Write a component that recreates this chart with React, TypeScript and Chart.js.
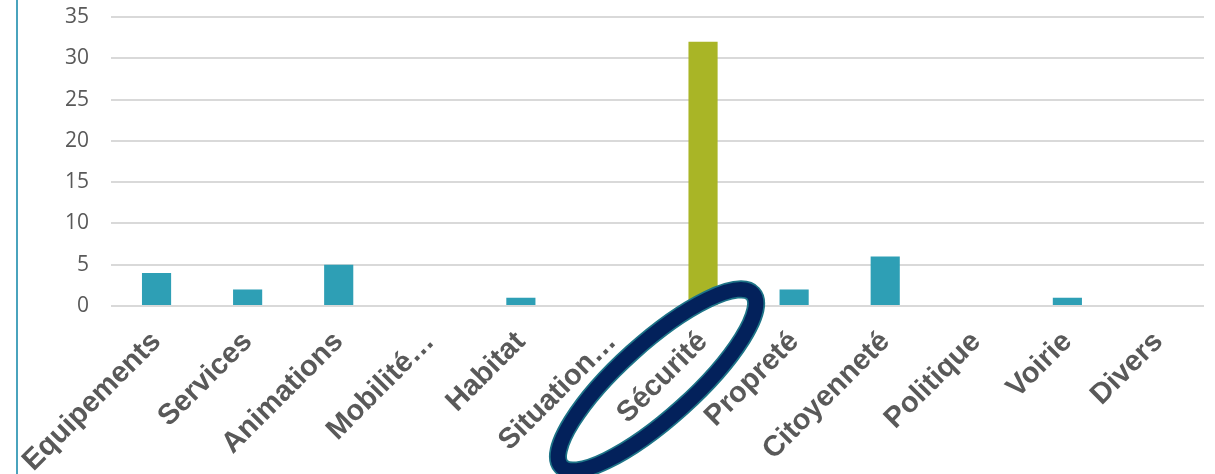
import React, { useEffect, useRef } from "react";
import { Chart, registerables } from "chart.js";

Chart.register(...registerables);

const categories = [
  "Equipements",
  "Services",
  "Animations",
  "Mobilité…",
  "Habitat",
  "Situation…",
  "Sécurité",
  "Propreté",
  "Citoyenneté",
  "Politique",
  "Voirie",
  "Divers",
];
const counts = [4, 2, 5, 0, 1, 0, 32, 2, 6, 0, 1, 0];
const highlighted = "Sécurité";
const yTicks = [0, 5, 10, 15, 20, 25, 30, 35];

const TEAL = "#2E9FB5";
const GREEN = "#A9B526";
const NAVY = "#03215B";
const RING_EDGE = "#1E7487";

const ellipsePlugin = {
  id: "ellipseHighlight",
  afterDraw(chart: any) {
    const idx = categories.indexOf(highlighted);
    if (idx < 0) return;
    const x = chart.scales.x.getPixelForValue(idx);
    const y = chart.chartArea.bottom;
    const ctx = chart.ctx;
    const cx = x - 46;
    const cy = y + 74;
    const rot = (-42 * Math.PI) / 180;
    ctx.save();
    ctx.beginPath();
    ctx.ellipse(cx, cy, 129, 37, rot, 0, Math.PI * 2);
    ctx.strokeStyle = RING_EDGE;
    ctx.lineWidth = 18;
    ctx.stroke();
    ctx.beginPath();
    ctx.ellipse(cx, cy, 129, 37, rot, 0, Math.PI * 2);
    ctx.strokeStyle = NAVY;
    ctx.lineWidth = 14.5;
    ctx.stroke();
    ctx.restore();
  },
};

export default function App() {
  const ref = useRef<HTMLCanvasElement | null>(null);
  useEffect(() => {
    if (!ref.current) return;
    const chart = new Chart(ref.current, {
      type: "bar",
      data: {
        labels: categories,
        datasets: [
          {
            data: counts,
            backgroundColor: categories.map((c) => (c === highlighted ? GREEN : TEAL)),
            barPercentage: 0.32,
            categoryPercentage: 1,
          },
        ],
      },
      options: {
        animation: false,
        responsive: false,
        maintainAspectRatio: false,
        layout: { padding: { top: 17, right: 11, left: 0, bottom: 0 } },
        plugins: { legend: { display: false }, tooltip: { enabled: false } },
        scales: {
          x: {
            grid: { display: false },
            border: { display: false },
            afterFit(scale: any) {
              scale.height = 168;
              scale.paddingLeft = 0;
              scale.paddingRight = 0;
            },
            ticks: {
              autoSkip: false,
              maxRotation: 45,
              minRotation: 45,
              padding: 11,
              color: "#595959",
              font: { family: "Liberation Sans, Arial", size: 29, weight: "bold" },
            },
          },
          y: {
            min: 0,
            max: 35,
            afterFit(scale: any) {
              scale.width = 111;
              scale.paddingTop = 0;
              scale.paddingBottom = 0;
            },
            afterBuildTicks(scale: any) {
              scale.ticks = yTicks.map((v) => ({ value: v }));
            },
            grid: { color: "#D9D9D9", lineWidth: 2, drawTicks: false },
            border: { display: false },
            ticks: {
              padding: 22,
              color: "#595959",
              font: { family: "Open Sans", size: 21 },
            },
          },
        },
      },
      plugins: [ellipsePlugin],
    });
    return () => chart.destroy();
  }, []);
  return (
    <div style={{ position: "fixed", left: 0, top: 0, width: 1215, height: 474, background: "#fff" }}>
      <div style={{ position: "absolute", left: 16, top: 0, width: 2, height: 474, background: "#4AA3BD" }} />
      <canvas ref={ref} width={1215} height={474} style={{ position: "absolute", left: 0, top: 0 }} />
    </div>
  );
}
